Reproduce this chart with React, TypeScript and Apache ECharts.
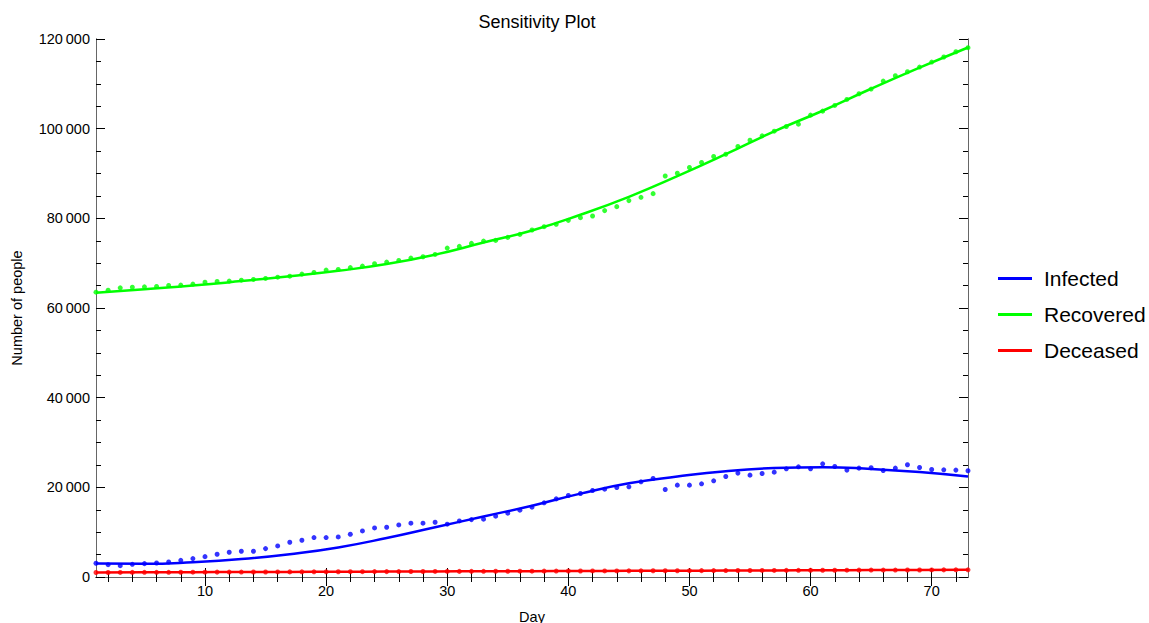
import React, { useEffect, useRef } from "react";
import * as echarts from "echarts";

const days: number[] = Array.from({ length: 73 }, (_, i) => i + 1);

const infectedObs: number[] = [
  3060, 2750, 2530, 2830, 2980, 3130, 3350, 3720, 4100, 4540,
  5070, 5520, 5740, 5740, 6330, 6930, 7750, 8200, 8790, 8790,
  8940, 9540, 10280, 10950, 11100, 11620, 12000, 12000, 12220, 11780,
  12510, 12800, 12890, 13560, 14230, 14900, 15570, 16540, 17430, 18170,
  18620, 19290, 19590, 19960, 20110, 21230, 21970, 19510, 20490, 20490,
  20780, 21450, 22420, 23170, 22720, 23080, 23390, 24130, 24580, 24130,
  25250, 24650, 23840, 24280, 24360, 23750, 24280, 25030, 24430, 23980,
  23910, 23840, 23690,
];

const recoveredObs: number[] = [
  63530, 63980, 64500, 64650, 64730, 64800, 65030, 65100, 65320, 65760,
  65920, 66000, 66200, 66370, 66590, 66880, 67100, 67550, 67930, 68450,
  68600, 69000, 69340, 69880, 70240, 70610, 71130, 71440, 71950, 73370,
  73740, 74410, 74930, 75080, 75750, 76420, 77400, 78140, 78660, 79550,
  80150, 80520, 81720, 82610, 83950, 84690, 85510, 89450, 90060, 91330,
  92450, 93790, 94300, 96020, 97430, 98400, 99440, 100490, 101010, 103020,
  103910, 105180, 106520, 107780, 108830, 110610, 111800, 112700, 113740, 114860,
  115980, 117160, 118060,
];

const deceasedObs: number[] = [
  1000, 1010, 1020, 1030, 1040, 1040, 1050, 1060, 1070, 1080,
  1090, 1100, 1100, 1110, 1120, 1130, 1140, 1150, 1150, 1160,
  1170, 1180, 1190, 1200, 1200, 1210, 1220, 1230, 1240, 1250,
  1250, 1260, 1270, 1280, 1290, 1300, 1300, 1310, 1320, 1330,
  1340, 1350, 1350, 1360, 1370, 1380, 1390, 1400, 1400, 1410,
  1420, 1430, 1440, 1450, 1450, 1460, 1470, 1480, 1490, 1500,
  1500, 1510, 1520, 1530, 1540, 1550, 1550, 1560, 1570, 1580,
  1590, 1600, 1600,
];

const fitDays: number[] = [1, 5, 9, 13, 17, 21, 25, 29, 33, 37, 41, 45, 49, 53, 57, 61, 65, 69, 73];
const infectedFit: number[] = [3000, 2950, 3300, 4000, 5100, 6600, 8700, 11100, 13500, 15900, 18600, 20900, 22400, 23600, 24300, 24500, 24100, 23400, 22400];
const recoveredFit: number[] = [63400, 64200, 65000, 66000, 67100, 68300, 69800, 71900, 74600, 77300, 80800, 84800, 89400, 94300, 99400, 104000, 108900, 113600, 118100];
const deceasedFit: number[] = [1000, 1040, 1080, 1110, 1140, 1170, 1200, 1240, 1270, 1300, 1340, 1370, 1400, 1440, 1470, 1500, 1540, 1570, 1600];

const xMajor: number[] = [10, 20, 30, 40, 50, 60, 70];
const xMinor: number[] = [2, 4, 6, 8, 12, 14, 16, 18, 22, 24, 26, 28, 32, 34, 36, 38, 42, 44, 46, 48, 52, 54, 56, 58, 62, 64, 66, 68, 72];
const yMajor: number[] = [0, 20000, 40000, 60000, 80000, 100000, 120000];
const yMinor: number[] = [5000, 10000, 15000, 25000, 30000, 35000, 45000, 50000, 55000, 65000, 70000, 75000, 85000, 90000, 95000, 105000, 110000, 115000];

const BLUE = "#0000ff";
const GREEN = "#00ff00";
const RED = "#ff0000";
const FONT = "Liberation Sans, Arial, sans-serif";

const fmt = (v: number) => {
  if (v === 0) return "0";
  const s = String(v);
  return s.slice(0, s.length - 3) + "\u2009" + s.slice(s.length - 3);
};

export default function App() {
  const ref = useRef<HTMLDivElement>(null);
  useEffect(() => {
    if (!ref.current) return;
    const chart = echarts.init(ref.current, undefined, { renderer: "svg" });
    const axisLine = { show: true, lineStyle: { color: "#666", width: 1 } };
    const mkX = (pos: "bottom" | "top", major: boolean, labels: boolean, name?: string) => ({
      type: "value",
      position: pos,
      offset: 0,
      min: 1,
      max: 73,
      name: name,
      nameLocation: "middle",
      nameGap: 32,
      nameTextStyle: { color: "#000", fontSize: 14.5, fontFamily: FONT },
      axisLine,
      splitLine: { show: false },
      axisTick: {
        show: true,
        inside: true,
        length: major ? 9 : 5,
        customValues: major ? xMajor : xMinor,
        lineStyle: { color: "#000", width: 1 },
      },
      axisLabel: {
        show: labels,
        customValues: xMajor,
        color: "#000",
        fontSize: 14.5,
        fontFamily: FONT,
        margin: 6,
      },
    });
    const mkY = (pos: "left" | "right", major: boolean, labels: boolean, name?: string) => ({
      type: "value",
      position: pos,
      offset: 0,
      min: 0,
      max: 120000,
      interval: 20000,
      name: name,
      nameLocation: "middle",
      nameGap: 72,
      nameTextStyle: { color: "#000", fontSize: 14.5, fontFamily: FONT },
      axisLine,
      splitLine: { show: false },
      axisTick: {
        show: true,
        inside: true,
        length: major ? 9 : 5,
        customValues: major ? yMajor : yMinor,
        lineStyle: { color: "#000", width: 1 },
      },
      axisLabel: {
        show: labels,
        color: "#000",
        fontSize: 14.5,
        fontFamily: FONT,
        margin: 6,
        formatter: (v: number) => fmt(v),
      },
    });
    const pairs = (xs: number[], ys: number[]) => xs.map((x, i) => [x, ys[i]]);
    const scatter = (name: string, color: string, ys: number[]) => ({
      name,
      type: "scatter",
      xAxisIndex: 0,
      yAxisIndex: 0,
      data: pairs(days, ys),
      symbol: "circle",
      symbolSize: 5,
      itemStyle: { color },
      z: 3,
    });
    const line = (name: string, color: string, ys: number[]) => ({
      name,
      type: "line",
      xAxisIndex: 0,
      yAxisIndex: 0,
      data: pairs(fitDays, ys),
      smooth: true,
      showSymbol: false,
      lineStyle: { color, width: 2.5 },
      itemStyle: { color },
      z: 4,
    });
    chart.setOption({
      animation: false,
      backgroundColor: "#fff",
      title: {
        text: "Sensitivity Plot",
        left: 532,
        textAlign: "center",
        top: 8,
        textStyle: { color: "#000", fontSize: 18, fontWeight: "normal", fontFamily: FONT },
      },
      grid: { left: 96, right: 181, top: 39, bottom: 46, containLabel: false, outerBoundsMode: "none" },
      xAxis: [
        mkX("bottom", true, true, "Day"),
        mkX("bottom", false, false),
        mkX("top", true, false),
        mkX("top", false, false),
      ],
      yAxis: [
        mkY("left", true, true, "Number of people"),
        mkY("left", false, false),
        mkY("right", true, false),
        mkY("right", false, false),
      ],
      legend: {
        orient: "vertical",
        left: 993,
        top: 263,
        itemGap: 15,
        itemWidth: 34,
        itemHeight: 3,
        icon: "rect",
        data: ["Infected", "Recovered", "Deceased"],
        textStyle: { color: "#000", fontSize: 21, lineHeight: 21, fontFamily: FONT, padding: [0, 0, 0, 7] },
      },
      series: [
        scatter("Infected data", BLUE, infectedObs),
        scatter("Recovered data", GREEN, recoveredObs),
        scatter("Deceased data", RED, deceasedObs),
        line("Infected", BLUE, infectedFit),
        line("Recovered", GREEN, recoveredFit),
        line("Deceased", RED, deceasedFit),
      ],
    });
    return () => chart.dispose();
  }, []);
  return <div ref={ref} style={{ position: "fixed", left: 0, top: 0, width: 1149, height: 623 }} />;
}
